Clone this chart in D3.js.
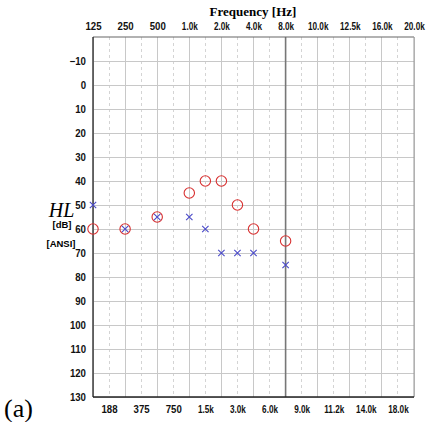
<!DOCTYPE html>
<html><head><meta charset="utf-8">
<script src="https://cdn.jsdelivr.net/npm/d3@7"></script>
<style>body{margin:0;background:#fff}svg{display:block}</style>
</head><body>
<script>
const freqSlots = ["125","188","250","375","500","750","1.0k","1.5k","2.0k","3.0k","4.0k","6.0k","8.0k","9.0k","10.0k","11.2k","12.5k","14.0k","16.0k","18.0k","20.0k"];
const topLabels = ["125","250","500","1.0k","2.0k","4.0k","8.0k","10.0k","12.5k","16.0k","20.0k"];
const bottomLabels = ["188","375","750","1.5k","3.0k","6.0k","9.0k","11.2k","14.0k","18.0k"];
const dbTicks = [-10,0,10,20,30,40,50,60,70,80,90,100,110,120,130];
const rightFreqs = ["125","250","500","1.0k","1.5k","2.0k","3.0k","4.0k","8.0k"];
const rightHL =    [60,60,55,45,40,40,50,60,65];
const leftFreqs =  ["125","250","500","1.0k","1.5k","2.0k","3.0k","4.0k","8.0k"];
const leftHL =     [50,60,55,55,60,70,70,70,75];

const W=427,H=422, L=93, R=414, T=37, B=397;
const svg=d3.select("body").append("svg").attr("width",W).attr("height",H);
const x=d3.scalePoint().domain(freqSlots).range([L,R]);
const y=d3.scaleLinear().domain([-20,130]).range([T,B]);

const g=svg.append("g");
freqSlots.forEach((f,i)=>{
  if(f==="8.0k") return;
  g.append("line").attr("x1",x(f)).attr("x2",x(f)).attr("y1",T).attr("y2",B)
   .attr("stroke", i%2===0? "#c8c8c8":"#d4d4d4").attr("stroke-width",1)
   .attr("stroke-dasharray", i%2===0? null:"3,3").attr("shape-rendering","crispEdges");
});
dbTicks.forEach(d=>{
  g.append("line").attr("x1",L).attr("x2",R).attr("y1",y(d)).attr("y2",y(d))
   .attr("stroke","#c8c8c8").attr("stroke-width",1).attr("shape-rendering","crispEdges");
});
g.append("line").attr("x1",x("8.0k")).attr("x2",x("8.0k")).attr("y1",T).attr("y2",B)
 .attr("stroke","#777").attr("stroke-width",1.6);
g.append("line").attr("x1",L).attr("x2",R).attr("y1",T).attr("y2",T).attr("stroke","#666").attr("stroke-width",1.2);
g.append("line").attr("x1",R).attr("x2",R).attr("y1",T).attr("y2",B).attr("stroke","#999").attr("stroke-width",1);
g.append("line").attr("x1",L).attr("x2",L).attr("y1",T).attr("y2",B).attr("stroke","#222").attr("stroke-width",1.3);
g.append("line").attr("x1",L).attr("x2",R).attr("y1",B).attr("y2",B).attr("stroke","#222").attr("stroke-width",1.3);

const lblFont="'Liberation Sans',Arial,sans-serif";
function styleLabels(s){
  s.select(".domain").remove();
  s.selectAll("text").attr("font-family",lblFont).attr("font-weight","bold").attr("font-size",10.5).attr("fill","#111")
   .attr("transform",function(){ return this.textContent.indexOf("k")>=0 ? "scale(0.78,1)" : "scale(0.92,1)"; });
}
svg.append("g").attr("transform",`translate(0,${T-7.5})`).call(d3.axisTop(x).tickValues(topLabels).tickSize(0).tickPadding(0)).call(styleLabels);
svg.append("g").attr("transform",`translate(0,${B+9})`).call(d3.axisBottom(x).tickValues(bottomLabels).tickSize(0).tickPadding(0)).call(styleLabels);
svg.append("g").attr("transform",`translate(${L-7},0)`).call(d3.axisLeft(y).tickValues(dbTicks).tickSize(0).tickPadding(0)).call(styleLabels);

svg.append("text").attr("x",253).attr("y",16).attr("text-anchor","middle")
  .attr("font-family","'Liberation Serif','DejaVu Serif',serif").attr("font-weight","bold").attr("font-size",13).text("Frequency [Hz]");
svg.append("text").attr("x",61.5).attr("y",216.5).attr("text-anchor","middle")
  .attr("font-family","'Liberation Serif',serif").attr("font-style","italic").attr("font-size",20).text("HL");
svg.append("text").attr("x",62).attr("y",228).attr("text-anchor","middle")
  .attr("font-family",lblFont).attr("font-weight","bold").attr("font-size",9.5).text("[dB]");
svg.append("text").attr("x",61).attr("y",246.5).attr("text-anchor","middle")
  .attr("font-family",lblFont).attr("font-weight","bold").attr("font-size",9.5).text("[ANSI]");
svg.append("text").attr("x",4).attr("y",417)
  .attr("font-family","'Liberation Serif',serif").attr("font-size",26).text("(a)");

const rightData=rightFreqs.map((f,i)=>({f,v:rightHL[i]}));
const leftData=leftFreqs.map((f,i)=>({f,v:leftHL[i]}));
svg.append("g").selectAll("circle").data(rightData).join("circle")
  .attr("cx",d=>x(d.f)).attr("cy",d=>y(d.v)).attr("r",5.2)
  .attr("fill","none").attr("stroke","#d83030").attr("stroke-width",1.1);
const s=3.2;
svg.append("g").selectAll("path").data(leftData).join("path")
  .attr("d",d=>{const cx=x(d.f),cy=y(d.v);return `M${cx-s},${cy-s}L${cx+s},${cy+s}M${cx-s},${cy+s}L${cx+s},${cy-s}`;})
  .attr("stroke","#4a4ac8").attr("stroke-width",1.1).attr("fill","none");
</script>
</body></html>
